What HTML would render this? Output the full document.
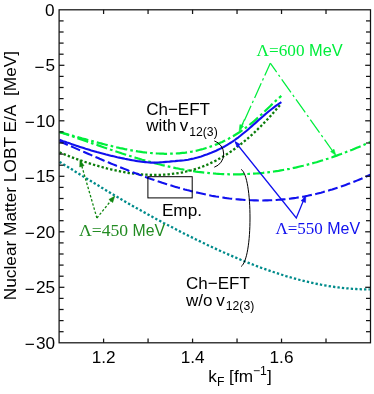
<!DOCTYPE html>
<html><head><meta charset="utf-8"><title>chart</title>
<style>
html,body{margin:0;padding:0;background:#fff;}
body{width:374px;height:394px;overflow:hidden;}
svg{display:block;will-change:transform;}
text{font-family:"Liberation Sans",sans-serif;font-size:17.2px;fill:#000;}
.tk{font-size:17.2px;}
.ser{font-family:"Liberation Serif",serif;}
</style></head><body>
<svg width="374" height="394" viewBox="0 0 374 394">
<rect x="0" y="0" width="374" height="394" fill="#fff"/>
<!-- curves -->
<g fill="none" stroke-linecap="butt" stroke-linejoin="round">
<path d="M59.5,161.9 L63.0,164.0 L66.5,166.2 L70.0,168.3 L73.4,170.4 L76.9,172.6 L80.4,174.7 L83.9,176.9 L87.4,179.0 L90.9,181.1 L94.4,183.2 L97.9,185.3 L101.3,187.4 L104.8,189.5 L108.3,191.6 L111.8,193.7 L115.3,195.8 L118.8,197.8 L122.3,199.9 L125.7,201.9 L129.2,203.9 L132.7,205.9 L136.2,207.9 L139.7,209.8 L143.2,211.8 L146.7,213.7 L150.1,215.6 L153.6,217.5 L157.1,219.4 L160.6,221.3 L164.1,223.2 L167.6,225.0 L171.1,226.8 L174.6,228.6 L178.0,230.4 L181.5,232.2 L185.0,234.0 L188.5,235.7 L192.0,237.4 L195.5,239.2 L199.0,240.9 L202.4,242.5 L205.9,244.2 L209.4,245.9 L212.9,247.5 L216.4,249.1 L219.9,250.7 L223.4,252.3 L226.9,253.8 L230.3,255.3 L233.8,256.8 L237.3,258.3 L240.8,259.8 L244.3,261.2 L247.8,262.6 L251.3,264.0 L254.7,265.3 L258.2,266.7 L261.7,268.0 L265.2,269.2 L268.7,270.4 L272.2,271.6 L275.7,272.8 L279.2,273.9 L282.6,275.0 L286.1,276.1 L289.6,277.1 L293.1,278.1 L296.6,279.1 L300.1,280.0 L303.6,280.9 L307.0,281.7 L310.5,282.5 L314.0,283.3 L317.5,284.0 L321.0,284.7 L324.5,285.3 L328.0,285.9 L331.4,286.5 L334.9,287.0 L338.4,287.4 L341.9,287.9 L345.4,288.2 L348.9,288.5 L352.4,288.8 L355.9,289.0 L359.3,289.2 L362.8,289.3 L366.3,289.4 L369.8,289.4" stroke="#008b8b" stroke-width="2.3" stroke-dasharray="2.35 2.1"/>
<path d="M59.5,131.9 L61.7,132.6 L64.0,133.4 L66.2,134.2 L68.4,135.0 L70.7,135.7 L72.9,136.5 L75.1,137.3 L77.4,138.1 L79.6,138.9 L81.9,139.7 L84.1,140.4 L86.3,141.2 L88.6,142.0 L90.8,142.8 L93.0,143.6 L95.3,144.4 L97.5,145.1 L99.7,145.9 L102.0,146.7 L104.2,147.5 L106.4,148.2 L108.7,149.0 L110.9,149.8 L113.1,150.5 L115.4,151.3 L117.6,152.0 L119.9,152.7 L122.1,153.5 L124.3,154.2 L126.6,154.9 L128.8,155.6 L131.0,156.3 L133.3,157.0 L135.5,157.7 L137.7,158.4 L140.0,159.0 L142.2,159.7 L144.4,160.3 L146.7,161.0 L148.9,161.6 L151.1,162.2 L153.4,162.8 L155.6,163.4 L157.9,164.0 L160.1,164.5 L162.3,165.1 L164.6,165.6 L166.8,166.1 L169.0,166.6 L171.3,167.1 L173.5,167.6 L175.7,168.1 L178.0,168.5 L180.2,169.0 L182.4,169.4 L184.7,169.8 L186.9,170.2 L189.1,170.5 L191.4,170.9 L193.6,171.2 L195.9,171.6 L198.1,171.9 L200.3,172.1 L202.6,172.4 L204.8,172.7 L207.0,172.9 L209.3,173.1 L211.5,173.3 L213.7,173.5 L216.0,173.7 L218.2,173.8 L220.4,174.0 L222.7,174.1 L224.9,174.2 L227.1,174.2 L229.4,174.3 L231.6,174.3 L233.8,174.3 L236.1,174.3 L238.3,174.3 L240.6,174.3 L242.8,174.2 L245.0,174.1 L247.3,174.0 L249.5,173.9 L251.7,173.8 L254.0,173.6 L256.2,173.5 L258.4,173.3 L260.7,173.1 L262.9,172.9 L265.1,172.6 L267.4,172.4 L269.6,172.1 L271.8,171.8 L274.1,171.5 L276.3,171.1 L278.6,170.8 L280.8,170.4 L283.0,170.0 L285.3,169.6 L287.5,169.2 L289.7,168.8 L292.0,168.3 L294.2,167.8 L296.4,167.4 L298.7,166.8 L300.9,166.3 L303.1,165.8 L305.4,165.2 L307.6,164.6 L309.8,164.0 L312.1,163.4 L314.3,162.8 L316.6,162.2 L318.8,161.5 L321.0,160.8 L323.3,160.1 L325.5,159.4 L327.7,158.7 L330.0,157.9 L332.2,157.2 L334.4,156.4 L336.7,155.6 L338.9,154.8 L341.1,154.0 L343.4,153.1 L345.6,152.3 L347.8,151.4 L350.1,150.5 L352.3,149.7 L354.6,148.7 L356.8,147.8 L359.0,146.9 L361.3,145.9 L363.5,145.0 L365.7,144.0 L368.0,143.0 L370.2,142.0" stroke="#00ee3c" stroke-width="2.2" stroke-dasharray="11.3 3.05 2.66 3.05" stroke-dashoffset="1.0"/>
<path d="M59.5,132.2 L61.1,132.6 L62.7,133.0 L64.3,133.5 L65.9,133.9 L67.5,134.3 L69.1,134.8 L70.7,135.2 L72.3,135.6 L73.9,136.1 L75.5,136.5 L77.1,136.9 L78.6,137.4 L80.2,137.8 L81.8,138.3 L83.4,138.7 L85.0,139.1 L86.6,139.6 L88.2,140.0 L89.8,140.5 L91.4,140.9 L93.0,141.3 L94.6,141.8 L96.2,142.2 L97.8,142.6 L99.4,143.0 L101.0,143.4 L102.6,143.9 L104.2,144.3 L105.8,144.7 L107.4,145.1 L109.0,145.5 L110.6,145.9 L112.2,146.2 L113.8,146.6 L115.3,147.0 L116.9,147.4 L118.5,147.7 L120.1,148.1 L121.7,148.4 L123.3,148.7 L124.9,149.1 L126.5,149.4 L128.1,149.7 L129.7,150.0 L131.3,150.3 L132.9,150.6 L134.5,150.8 L136.1,151.1 L137.7,151.4 L139.3,151.6 L140.9,151.8 L142.5,152.1 L144.1,152.3 L145.7,152.5 L147.3,152.6 L148.9,152.8 L150.5,153.0 L152.0,153.1 L153.6,153.2 L155.2,153.4 L156.8,153.5 L158.4,153.5 L160.0,153.6 L161.6,153.7 L163.2,153.7 L164.8,153.8 L166.4,153.8 L168.0,153.8 L169.6,153.7 L171.2,153.7 L172.8,153.7 L174.4,153.6 L176.0,153.5 L177.6,153.4 L179.2,153.3 L180.8,153.1 L182.4,152.9 L184.0,152.8 L185.6,152.6 L187.2,152.3 L188.8,152.1 L190.3,151.8 L191.9,151.6 L193.5,151.3 L195.1,150.9 L196.7,150.6 L198.3,150.2 L199.9,149.8 L201.5,149.4 L203.1,149.0 L204.7,148.5 L206.3,148.0 L207.9,147.5 L209.5,147.0 L211.1,146.4 L212.7,145.9 L214.3,145.3 L215.9,144.6 L217.5,144.0 L219.1,143.3 L220.7,142.6 L222.3,141.9 L223.9,141.1 L225.5,140.3 L227.0,139.5 L228.6,138.7 L230.2,137.8 L231.8,136.9 L233.4,136.0 L235.0,135.0 L236.6,134.0 L238.2,133.0 L239.8,132.0 L241.4,130.9 L243.0,129.8 L244.6,128.6 L246.2,127.4 L247.8,126.2 L249.4,125.0 L251.0,123.7 L252.6,122.4 L254.2,121.0 L255.8,119.6 L257.4,118.2 L259.0,116.8 L260.6,115.3 L262.2,113.8 L263.7,112.3 L265.3,110.8 L266.9,109.2 L268.5,107.7 L270.1,106.2 L271.7,104.6 L273.3,103.1 L274.9,101.6 L276.5,100.1 L278.1,98.7 L279.7,97.3 L281.3,95.9" stroke="#00ee3c" stroke-width="2.2" stroke-dasharray="11.3 3.05 2.66 3.05" stroke-dashoffset="1.5"/>
<path d="M59.5,152.4 L62.0,153.4 L64.5,154.4 L67.0,155.4 L69.4,156.3 L71.9,157.3 L74.4,158.2 L76.9,159.1 L79.4,160.0 L81.9,160.8 L84.4,161.7 L86.8,162.5 L89.3,163.3 L91.8,164.1 L94.3,164.9 L96.8,165.6 L99.3,166.3 L101.8,167.0 L104.2,167.7 L106.7,168.4 L109.2,169.0 L111.7,169.6 L114.2,170.1 L116.7,170.7 L119.1,171.2 L121.6,171.7 L124.1,172.1 L126.6,172.6 L129.1,173.0 L131.6,173.3 L134.1,173.6 L136.5,173.9 L139.0,174.2 L141.5,174.4 L144.0,174.6 L146.5,174.7 L149.0,174.8 L151.5,174.9 L153.9,175.0 L156.4,174.9 L158.9,174.9 L161.4,174.8 L163.9,174.7 L166.4,174.5 L168.9,174.3 L171.3,174.0 L173.8,173.7 L176.3,173.4 L178.8,173.0 L181.3,172.6 L183.8,172.1 L186.3,171.5 L188.7,170.9 L191.2,170.3 L193.7,169.6 L196.2,168.8 L198.7,168.0 L201.2,167.1 L203.7,166.2 L206.1,165.2 L208.6,164.1 L211.1,162.9 L213.6,161.7 L216.1,160.5 L218.6,159.1 L221.1,157.7 L223.5,156.3 L226.0,154.7 L228.5,153.1 L231.0,151.5 L233.5,149.7 L236.0,147.9 L238.4,146.1 L240.9,144.1 L243.4,142.1 L245.9,140.1 L248.4,137.9 L250.9,135.7 L253.4,133.5 L255.8,131.1 L258.3,128.7 L260.8,126.3 L263.3,123.7 L265.8,121.1 L268.3,118.5 L270.8,115.7 L273.2,112.9 L275.7,110.1 L278.2,107.2 L280.7,104.2" stroke="#0a7d0a" stroke-width="2.3" stroke-dasharray="2.35 2.1"/>
<path d="M59.5,141.2 L61.7,142.2 L64.0,143.2 L66.2,144.2 L68.4,145.2 L70.7,146.1 L72.9,147.1 L75.1,148.1 L77.4,149.1 L79.6,150.1 L81.9,151.1 L84.1,152.0 L86.3,153.0 L88.6,154.0 L90.8,154.9 L93.0,155.9 L95.3,156.9 L97.5,157.8 L99.7,158.8 L102.0,159.7 L104.2,160.7 L106.4,161.6 L108.7,162.5 L110.9,163.5 L113.1,164.4 L115.4,165.3 L117.6,166.2 L119.9,167.1 L122.1,168.0 L124.3,168.9 L126.6,169.8 L128.8,170.7 L131.0,171.5 L133.3,172.4 L135.5,173.3 L137.7,174.1 L140.0,174.9 L142.2,175.8 L144.4,176.6 L146.7,177.4 L148.9,178.2 L151.1,179.0 L153.4,179.7 L155.6,180.5 L157.9,181.3 L160.1,182.0 L162.3,182.8 L164.6,183.5 L166.8,184.2 L169.0,184.9 L171.3,185.6 L173.5,186.3 L175.7,186.9 L178.0,187.6 L180.2,188.2 L182.4,188.8 L184.7,189.5 L186.9,190.1 L189.1,190.6 L191.4,191.2 L193.6,191.8 L195.9,192.3 L198.1,192.8 L200.3,193.3 L202.6,193.8 L204.8,194.3 L207.0,194.8 L209.3,195.2 L211.5,195.7 L213.7,196.1 L216.0,196.5 L218.2,196.8 L220.4,197.2 L222.7,197.5 L224.9,197.9 L227.1,198.2 L229.4,198.5 L231.6,198.7 L233.8,199.0 L236.1,199.2 L238.3,199.4 L240.6,199.6 L242.8,199.8 L245.0,200.0 L247.3,200.1 L249.5,200.2 L251.7,200.3 L254.0,200.4 L256.2,200.4 L258.4,200.5 L260.7,200.5 L262.9,200.5 L265.1,200.4 L267.4,200.4 L269.6,200.3 L271.8,200.2 L274.1,200.1 L276.3,200.0 L278.6,199.8 L280.8,199.6 L283.0,199.4 L285.3,199.2 L287.5,199.0 L289.7,198.7 L292.0,198.4 L294.2,198.1 L296.4,197.8 L298.7,197.4 L300.9,197.1 L303.1,196.7 L305.4,196.2 L307.6,195.8 L309.8,195.3 L312.1,194.8 L314.3,194.3 L316.6,193.8 L318.8,193.2 L321.0,192.7 L323.3,192.1 L325.5,191.4 L327.7,190.8 L330.0,190.1 L332.2,189.5 L334.4,188.7 L336.7,188.0 L338.9,187.3 L341.1,186.5 L343.4,185.7 L345.6,184.9 L347.8,184.1 L350.1,183.3 L352.3,182.4 L354.6,181.5 L356.8,180.6 L359.0,179.7 L361.3,178.8 L363.5,177.8 L365.7,176.8 L368.0,175.8 L370.2,174.8" stroke="#1010ee" stroke-width="2.1" stroke-dasharray="9.9 3.46" stroke-dashoffset="0.8"/>
<path d="M59.5,139.8 L61.4,140.5 L63.2,141.2 L65.1,141.8 L67.0,142.5 L68.8,143.1 L70.7,143.8 L72.6,144.4 L74.4,145.1 L76.3,145.7 L78.1,146.3 L80.0,146.9 L81.9,147.5 L83.7,148.1 L85.6,148.7 L87.5,149.2 L89.3,149.8 L91.2,150.4 L93.1,150.9 L94.9,151.4 L96.8,152.0 L98.7,152.5 L100.5,153.0 L102.4,153.5 L104.3,154.0 L106.1,154.5 L108.0,154.9 L109.8,155.4 L111.7,155.9 L113.6,156.3 L115.4,156.7 L117.3,157.2 L119.2,157.6 L121.0,158.0 L122.9,158.4 L124.8,158.8 L126.6,159.1 L128.5,159.5 L130.4,159.9 L132.2,160.2 L134.1,160.5 L136.0,160.9 L137.8,161.2 L139.7,161.4 L141.5,161.7 L143.4,161.9 L145.3,162.1 L147.1,162.3 L149.0,162.5 L150.9,162.6 L152.7,162.6 L154.6,162.6 L156.5,162.6 L158.3,162.5 L160.2,162.4 L162.1,162.3 L163.9,162.1 L165.8,161.9 L167.7,161.7 L169.5,161.6 L171.4,161.4 L173.2,161.2 L175.1,161.1 L177.0,160.9 L178.8,160.8 L180.7,160.6 L182.6,160.5 L184.4,160.3 L186.3,160.0 L188.2,159.7 L190.0,159.3 L191.9,158.9 L193.8,158.5 L195.6,158.0 L197.5,157.5 L199.4,156.9 L201.2,156.4 L203.1,155.8 L204.9,155.1 L206.8,154.5 L208.7,153.8 L210.5,153.1 L212.4,152.3 L214.3,151.5 L216.1,150.7 L218.0,149.8 L219.9,148.9 L221.7,148.0 L223.6,147.0 L225.5,145.9 L227.3,144.8 L229.2,143.7 L231.1,142.5 L232.9,141.3 L234.8,140.0 L236.6,138.6 L238.5,137.3 L240.4,135.8 L242.2,134.3 L244.1,132.8 L246.0,131.3 L247.8,129.7 L249.7,128.0 L251.6,126.4 L253.4,124.8 L255.3,123.1 L257.2,121.4 L259.0,119.8 L260.9,118.1 L262.8,116.5 L264.6,114.9 L266.5,113.3 L268.3,111.7 L270.2,110.2 L272.1,108.7 L273.9,107.3 L275.8,105.9 L277.7,104.5 L279.5,103.3 L281.4,102.1" stroke="#1010ee" stroke-width="2.1"/>
</g>
<!-- empirical box -->
<rect x="147.9" y="176.7" width="44.3" height="21.2" fill="none" stroke="#000" stroke-width="1"/>
<!-- brackets -->
<g fill="none" stroke="#000" stroke-width="1">
<path d="M214.3,140.9 A13.9,13.9 0 0 1 214.3,167.2"/>
<path d="M241.2,169.4 C247,173 250,195 250,218 C250,241 247,262 241.2,266.5"/>
</g>
<!-- green arrows 600 -->
<g fill="none" stroke="#00ee3c" stroke-width="1.25" stroke-dasharray="16 3.2 2.3 3.2">
<path d="M270.3,63.2 L241,128" stroke-dashoffset="2.6"/>
<path d="M244.6,119.2 L241,127.2" stroke-dasharray="none"/>
<path d="M270.3,63.2 L334,153" stroke-dashoffset="5"/>
</g>
<g fill="#00ee3c" stroke="#00ee3c" stroke-width="0.6" stroke-linejoin="miter"><path d="M239.2,130.9 L239.9,124.6 L243.5,126.3 Z"/><path d="M335.8,155.3 L330.6,151.6 L334.0,149.2 Z"/></g>
<!-- blue arrows 550 -->
<g fill="none" stroke="#1010ee" stroke-width="1.25">
<path d="M235.3,142 L296.3,218 L305.1,196.6"/>
</g>
<g fill="#1010ee" stroke="#1010ee" stroke-width="0.6"><path d="M235.2,141.6 L240.2,144.4 L236.9,147.0 Z"/><path d="M305.8,196.0 L305.5,202.6 L301.1,200.7 Z"/></g>
<!-- dark green arrows 450 -->
<g fill="none" stroke="#0f860f" stroke-width="1.3" stroke-dasharray="2.4 1.9">
<path d="M96.9,218 L81.5,165"/><path d="M96.9,218 L111.5,200"/>
</g>
<g fill="#0f860f" stroke="#0f860f" stroke-width="0.5"><path d="M80.0,159.8 L84.1,165.7 L79.7,167.0 Z"/><path d="M114.8,196.1 L112.7,202.6 L108.9,199.4 Z"/></g>
<!-- axes -->
<g stroke="#141414" stroke-width="1.25" fill="none">
<rect x="59.1" y="9.8" width="311.4" height="333.0"/>
<line x1="59.1" y1="20.90" x2="63.6" y2="20.90"/><line x1="370.5" y1="20.90" x2="366.0" y2="20.90"/><line x1="59.1" y1="32.00" x2="63.6" y2="32.00"/><line x1="370.5" y1="32.00" x2="366.0" y2="32.00"/><line x1="59.1" y1="43.10" x2="63.6" y2="43.10"/><line x1="370.5" y1="43.10" x2="366.0" y2="43.10"/><line x1="59.1" y1="54.20" x2="63.6" y2="54.20"/><line x1="370.5" y1="54.20" x2="366.0" y2="54.20"/><line x1="59.1" y1="65.30" x2="64.4" y2="65.30"/><line x1="370.5" y1="65.30" x2="365.2" y2="65.30"/><line x1="59.1" y1="76.40" x2="63.6" y2="76.40"/><line x1="370.5" y1="76.40" x2="366.0" y2="76.40"/><line x1="59.1" y1="87.50" x2="63.6" y2="87.50"/><line x1="370.5" y1="87.50" x2="366.0" y2="87.50"/><line x1="59.1" y1="98.60" x2="63.6" y2="98.60"/><line x1="370.5" y1="98.60" x2="366.0" y2="98.60"/><line x1="59.1" y1="109.70" x2="63.6" y2="109.70"/><line x1="370.5" y1="109.70" x2="366.0" y2="109.70"/><line x1="59.1" y1="120.80" x2="64.4" y2="120.80"/><line x1="370.5" y1="120.80" x2="365.2" y2="120.80"/><line x1="59.1" y1="131.90" x2="63.6" y2="131.90"/><line x1="370.5" y1="131.90" x2="366.0" y2="131.90"/><line x1="59.1" y1="143.00" x2="63.6" y2="143.00"/><line x1="370.5" y1="143.00" x2="366.0" y2="143.00"/><line x1="59.1" y1="154.10" x2="63.6" y2="154.10"/><line x1="370.5" y1="154.10" x2="366.0" y2="154.10"/><line x1="59.1" y1="165.20" x2="63.6" y2="165.20"/><line x1="370.5" y1="165.20" x2="366.0" y2="165.20"/><line x1="59.1" y1="176.30" x2="64.4" y2="176.30"/><line x1="370.5" y1="176.30" x2="365.2" y2="176.30"/><line x1="59.1" y1="187.40" x2="63.6" y2="187.40"/><line x1="370.5" y1="187.40" x2="366.0" y2="187.40"/><line x1="59.1" y1="198.50" x2="63.6" y2="198.50"/><line x1="370.5" y1="198.50" x2="366.0" y2="198.50"/><line x1="59.1" y1="209.60" x2="63.6" y2="209.60"/><line x1="370.5" y1="209.60" x2="366.0" y2="209.60"/><line x1="59.1" y1="220.70" x2="63.6" y2="220.70"/><line x1="370.5" y1="220.70" x2="366.0" y2="220.70"/><line x1="59.1" y1="231.80" x2="64.4" y2="231.80"/><line x1="370.5" y1="231.80" x2="365.2" y2="231.80"/><line x1="59.1" y1="242.90" x2="63.6" y2="242.90"/><line x1="370.5" y1="242.90" x2="366.0" y2="242.90"/><line x1="59.1" y1="254.00" x2="63.6" y2="254.00"/><line x1="370.5" y1="254.00" x2="366.0" y2="254.00"/><line x1="59.1" y1="265.10" x2="63.6" y2="265.10"/><line x1="370.5" y1="265.10" x2="366.0" y2="265.10"/><line x1="59.1" y1="276.20" x2="63.6" y2="276.20"/><line x1="370.5" y1="276.20" x2="366.0" y2="276.20"/><line x1="59.1" y1="287.30" x2="64.4" y2="287.30"/><line x1="370.5" y1="287.30" x2="365.2" y2="287.30"/><line x1="59.1" y1="298.40" x2="63.6" y2="298.40"/><line x1="370.5" y1="298.40" x2="366.0" y2="298.40"/><line x1="59.1" y1="309.50" x2="63.6" y2="309.50"/><line x1="370.5" y1="309.50" x2="366.0" y2="309.50"/><line x1="59.1" y1="320.60" x2="63.6" y2="320.60"/><line x1="370.5" y1="320.60" x2="366.0" y2="320.60"/><line x1="59.1" y1="331.70" x2="63.6" y2="331.70"/><line x1="370.5" y1="331.70" x2="366.0" y2="331.70"/><line x1="103.59" y1="342.8" x2="103.59" y2="338.6"/><line x1="103.59" y1="9.8" x2="103.59" y2="14.0"/><line x1="148.07" y1="342.8" x2="148.07" y2="338.6"/><line x1="148.07" y1="9.8" x2="148.07" y2="14.0"/><line x1="192.56" y1="342.8" x2="192.56" y2="338.6"/><line x1="192.56" y1="9.8" x2="192.56" y2="14.0"/><line x1="237.04" y1="342.8" x2="237.04" y2="338.6"/><line x1="237.04" y1="9.8" x2="237.04" y2="14.0"/><line x1="281.53" y1="342.8" x2="281.53" y2="338.6"/><line x1="281.53" y1="9.8" x2="281.53" y2="14.0"/><line x1="326.01" y1="342.8" x2="326.01" y2="338.6"/><line x1="326.01" y1="9.8" x2="326.01" y2="14.0"/>
</g>
<!-- labels -->
<text class="tk" x="54.6" y="15.8" text-anchor="end">0</text><text class="tk" x="54.6" y="71.3" text-anchor="end"><tspan dy="1.2" dx="0.4">−</tspan><tspan dx="1.0" dy="-1.2">5</tspan></text><text class="tk" x="54.6" y="126.8" text-anchor="end"><tspan dy="1.2" dx="0.4">−</tspan><tspan dx="1.0" dy="-1.2">10</tspan></text><text class="tk" x="54.6" y="182.3" text-anchor="end"><tspan dy="1.2" dx="0.4">−</tspan><tspan dx="1.0" dy="-1.2">15</tspan></text><text class="tk" x="54.6" y="237.8" text-anchor="end"><tspan dy="1.2" dx="0.4">−</tspan><tspan dx="1.0" dy="-1.2">20</tspan></text><text class="tk" x="54.6" y="293.3" text-anchor="end"><tspan dy="1.2" dx="0.4">−</tspan><tspan dx="1.0" dy="-1.2">25</tspan></text><text class="tk" x="54.6" y="348.8" text-anchor="end"><tspan dy="1.2" dx="0.4">−</tspan><tspan dx="1.0" dy="-1.2">30</tspan></text>
<text class="tk" x="103.6" y="363" text-anchor="middle">1.2</text><text class="tk" x="192.6" y="363" text-anchor="middle">1.4</text><text class="tk" x="281.5" y="363" text-anchor="middle">1.6</text>
<text transform="translate(16.2,175.6) rotate(-90)" text-anchor="middle" style="white-space:pre;font-size:17.3px">Nuclear Matter LOBT E/A  [MeV]</text>
<text x="208.3" y="381.8" text-anchor="start">k<tspan font-size="12.2" dy="4.2">F</tspan><tspan dy="-4.2"> [fm</tspan><tspan font-size="12.2" dy="-7.2">−1</tspan><tspan dy="7.2">]</tspan></text>
<text x="146.2" y="114.5" style="font-size:17px">Ch−EFT</text>
<text x="146.2" y="131.2" style="font-size:17px;word-spacing:-1.4px">with v<tspan font-size="12.2" dx="1" dy="4.3">12(3)</tspan></text>
<text x="186.1" y="289.2" style="font-size:17px">Ch−EFT</text>
<text x="186.1" y="305.9" style="font-size:17px;word-spacing:-1px">w/o v<tspan font-size="12.2" dx="1" dy="4.3">12(3)</tspan></text>
<text x="161.9" y="216">Emp.</text>
<text x="79" y="236.1" style="fill:#228b22"><tspan class="ser" font-size="17.6">Λ=450</tspan><tspan font-size="15.8"> MeV</tspan></text>
<text x="275.4" y="233.8" style="fill:#1010ee"><tspan class="ser" font-size="17">Λ=550</tspan><tspan font-size="16"> MeV</tspan></text>
<text x="256.6" y="56.1" style="fill:#00ee3c"><tspan class="ser" font-size="17.2">Λ=600</tspan><tspan font-size="16.4"> MeV</tspan></text>
</svg>
</body></html>
